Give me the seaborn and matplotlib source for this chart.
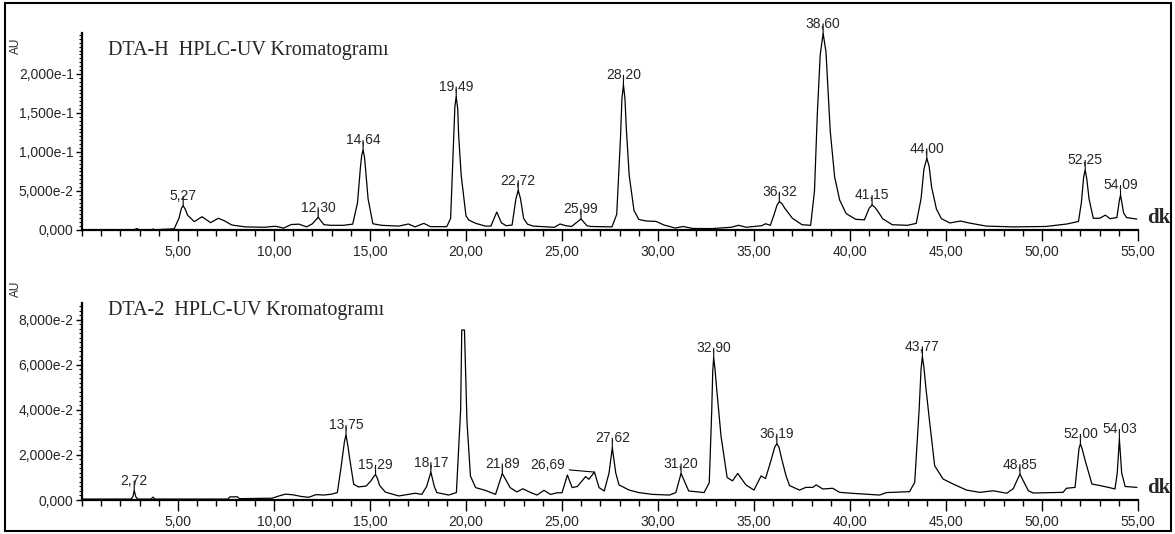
import numpy as np
import matplotlib
matplotlib.use("Agg")
import matplotlib.pyplot as plt
from matplotlib.patches import Rectangle
from matplotlib.ticker import FixedLocator, MultipleLocator
import seaborn as sns

# DTA-H trace (min, AU)
top_time = [0.0, 2.7, 2.85, 3.0, 3.6, 3.7, 3.8, 4.2, 4.8, 5.05, 5.18, 5.27, 5.37, 5.5, 5.85, 6.25, 6.7,
            7.1, 7.4, 7.8, 8.5, 9.5, 9.9, 10.1, 10.5, 10.9, 11.3, 11.7, 12.0, 12.3, 12.6, 13.0,
            13.6, 14.1, 14.35, 14.5, 14.57, 14.64, 14.71, 14.78, 14.9, 15.15, 15.6, 16.0, 16.5, 17.0, 17.35, 17.8, 18.15,
            19.0, 19.2, 19.35, 19.42, 19.49, 19.57, 19.62, 19.75, 20.0, 20.15, 20.5, 21.0, 21.3, 21.6, 21.85, 22.1, 22.4,
            22.6, 22.72, 22.84, 23.0, 23.2, 23.5, 24.6, 24.9, 25.2, 25.5, 25.99, 26.3, 26.5, 27.6, 27.85, 28.05, 28.12, 28.2,
            28.28, 28.35, 28.5, 28.75, 29.0, 29.4, 29.9, 30.3, 30.9, 31.3, 31.8, 32.8, 33.8, 34.2, 34.6, 35.4,
            35.6, 35.85, 36.05, 36.2, 36.32, 36.45, 36.6, 37.0, 37.5, 37.95, 38.15, 38.3, 38.45, 38.6, 38.75, 38.9, 38.97, 39.2, 39.46,
            39.8, 40.3, 40.75, 41.0, 41.15, 41.3, 41.45, 41.7, 42.2, 43.0, 43.45, 43.7, 43.85, 44.0, 44.12, 44.25, 44.5, 44.76, 45.2,
            45.75, 46.2, 47.1, 48.5, 50.2, 51.3, 51.9, 52.05, 52.17, 52.25, 52.33, 52.45, 52.67, 53.0, 53.3, 53.55, 53.9,
            54.03, 54.09, 54.16, 54.25, 54.4, 54.94]
top_au = [0.0003, 0.0003, 0.0018, 0.0003, 0.0003, 0.0012, 0.0003, 0.0008, 0.0015, 0.015, 0.028, 0.031, 0.027, 0.019, 0.0107, 0.017, 0.0094,
          0.015, 0.012, 0.0064, 0.004, 0.0035, 0.0045, 0.0047, 0.0025, 0.007, 0.0075, 0.004, 0.008, 0.0163, 0.0068, 0.006,
          0.006, 0.0075, 0.035, 0.08, 0.096, 0.1025, 0.094, 0.075, 0.04, 0.008, 0.006, 0.0055, 0.005, 0.0077, 0.004, 0.0085, 0.0043,
          0.0043, 0.015, 0.11, 0.158, 0.171, 0.155, 0.12, 0.07, 0.018, 0.0128, 0.0086, 0.005, 0.005, 0.023, 0.009, 0.0055, 0.0064,
          0.04, 0.051, 0.04, 0.015, 0.0075, 0.005, 0.0035, 0.0077, 0.0055, 0.0045, 0.0142, 0.0055, 0.0045, 0.004, 0.02, 0.12, 0.168, 0.186,
          0.168, 0.13, 0.07, 0.025, 0.0135, 0.0115, 0.011, 0.0065, 0.0025, 0.0045, 0.002, 0.0018, 0.0035, 0.006, 0.0035, 0.0055,
          0.008, 0.006, 0.02, 0.032, 0.0363, 0.034, 0.028, 0.015, 0.0068, 0.006, 0.05, 0.15, 0.225, 0.252, 0.228, 0.16, 0.127, 0.068, 0.0385,
          0.021, 0.0137, 0.013, 0.028, 0.032, 0.029, 0.024, 0.0145, 0.0068, 0.006, 0.0085, 0.04, 0.078, 0.0918, 0.082, 0.055, 0.027, 0.0145, 0.009,
          0.0115, 0.009, 0.005, 0.004, 0.0045, 0.0077, 0.011, 0.035, 0.068, 0.0769, 0.066, 0.04, 0.015, 0.015, 0.019, 0.0145, 0.016,
          0.038, 0.0448, 0.035, 0.022, 0.016, 0.014]

# DTA-2 trace (min, AU)
bot_time = [0.0, 2.55, 2.65, 2.72, 2.8, 2.9, 3.6, 3.7, 3.8, 7.6, 7.7, 8.1, 8.2, 9.9, 10.3,
            10.6, 11.0, 11.4, 11.8, 12.2, 12.6, 13.0, 13.3, 13.5, 13.67, 13.75, 13.83, 13.95, 14.15, 14.4, 14.8, 15.05,
            15.2, 15.29, 15.38, 15.5, 15.8, 16.2, 16.5, 17.36, 17.7, 17.95, 18.17, 18.35, 18.48, 19.1, 19.5, 19.72, 19.78,
            19.92, 20.05, 20.23, 20.5, 21.0, 21.54, 21.89, 22.3, 22.65, 22.96, 23.37, 23.7, 24.06, 24.4, 24.75,
            25.0, 25.28, 25.53, 25.8, 26.23, 26.4, 26.69, 26.93, 27.2, 27.45, 27.62, 27.8, 27.97, 28.5, 29.0,
            29.7, 30.6, 30.93, 31.2, 31.6, 32.4, 32.67, 32.8, 32.85, 32.9, 32.97, 33.05, 33.28, 33.6, 33.88, 34.15, 34.58,
            35.0, 35.37, 35.6, 35.9, 36.08, 36.19, 36.3, 36.45, 36.67, 36.85, 37.37, 37.7, 38.06, 38.24, 38.58, 39.1, 39.46,
            40.06, 41.54, 41.9, 43.1, 43.37, 43.6, 43.7, 43.77, 43.85, 43.95, 44.15, 44.41, 44.85, 45.37, 46.07, 46.76, 47.46,
            48.16, 48.5, 48.85, 49.29, 49.55, 51.1, 51.27, 51.72, 51.93, 52.0, 52.08, 52.25, 52.6, 53.03, 53.46, 53.8, 53.92,
            54.03, 54.15, 54.33, 54.94]
bot_au = [0.0004, 0.0004, 0.0015, 0.0042, 0.0015, 0.0004, 0.0004, 0.0013, 0.0004, 0.0004, 0.0014, 0.0014, 0.0006, 0.0008, 0.0019,
          0.0026, 0.0023, 0.0016, 0.0012, 0.0024, 0.0022, 0.0026, 0.0033, 0.015, 0.026, 0.0289, 0.025, 0.018, 0.007, 0.0058, 0.0062, 0.0085,
          0.0105, 0.0112, 0.0098, 0.0065, 0.0035, 0.0025, 0.0018, 0.003, 0.0025, 0.006, 0.0124, 0.006, 0.0033, 0.0022, 0.0033, 0.04, 0.0755,
          0.0755, 0.035, 0.0107, 0.0055, 0.0043, 0.0025, 0.0118, 0.0055, 0.0036, 0.005, 0.0033, 0.0022, 0.0043, 0.0025, 0.0032,
          0.0032, 0.0111, 0.0055, 0.006, 0.0104, 0.0092, 0.0124, 0.0055, 0.004, 0.012, 0.0232, 0.012, 0.0067, 0.0044, 0.0033,
          0.0025, 0.0022, 0.0033, 0.0118, 0.004, 0.0033, 0.0077, 0.04, 0.057, 0.0632, 0.058, 0.05, 0.0285, 0.01, 0.0085, 0.0118, 0.0067,
          0.0044, 0.0107, 0.0095, 0.018, 0.0235, 0.025, 0.0235, 0.018, 0.0107, 0.0064, 0.0044, 0.0056, 0.0056, 0.0067, 0.0049, 0.0052, 0.0034,
          0.003, 0.0022, 0.0033, 0.0037, 0.0078, 0.04, 0.058, 0.0638, 0.059, 0.05, 0.0345, 0.0152, 0.0093, 0.0071, 0.0044, 0.0034, 0.0041,
          0.003, 0.005, 0.0115, 0.0041, 0.0031, 0.0034, 0.0052, 0.0056, 0.023, 0.0249, 0.023, 0.0175, 0.0071, 0.0064, 0.0056, 0.0049, 0.012,
          0.0271, 0.012, 0.006, 0.0056]

top_peaks = [5.27, 12.30, 14.64, 19.49, 22.72, 25.99, 28.20, 36.32, 38.60, 41.15, 44.00, 52.25, 54.09]
bot_peaks = [2.72, 13.75, 15.29, 18.17, 21.89, 26.69, 27.62, 31.20, 32.90, 36.19, 43.77, 48.85, 52.00, 54.03]

titles = ["DTA-H  HPLC-UV Kromatogramı", "DTA-2  HPLC-UV Kromatogramı"]
x_ticks = [5, 10, 15, 20, 25, 30, 35, 40, 45, 50, 55]
x_labels = ["5,00", "10,00", "15,00", "20,00", "25,00", "30,00", "35,00", "40,00", "45,00", "50,00", "55,00"]
top_yticks = [0, 0.05, 0.10, 0.15, 0.20]
top_ylabels = ["0,000", "5,000e-2", "1,000e-1", "1,500e-1", "2,000e-1"]
bot_yticks = [0, 0.02, 0.04, 0.06, 0.08]
bot_ylabels = ["0,000", "2,000e-2", "4,000e-2", "6,000e-2", "8,000e-2"]

sns.set_style("ticks")
plt.rcParams["font.family"] = ["Liberation Sans", "DejaVu Sans"]

W, H = 1175, 534
fig = plt.figure(figsize=(W / 100, H / 100), dpi=100)
ax_top = fig.add_axes([82 / W, 1 - 230 / H, 1056 / W, 197 / H])
ax_bot = fig.add_axes([82 / W, 1 - 500 / H, 1056 / W, 197 / H])


def draw_panel(ax, t, au, peaks, yticks, ylabels, ymax, yminor, title, title_y, au_y, shifted):
    sns.lineplot(x=t, y=au, ax=ax, color="black", linewidth=0.9, estimator=None, sort=False)
    ax.set_xlim(0, 55)
    ax.set_ylim(0, ymax)
    sns.despine(ax=ax)
    for side in ["left", "bottom"]:
        ax.spines[side].set_linewidth(1.6)
        ax.spines[side].set_color("black")

    ax.xaxis.set_major_locator(FixedLocator(x_ticks))
    ax.set_xticklabels(x_labels)
    ax.xaxis.set_minor_locator(MultipleLocator(1))
    ax.yaxis.set_major_locator(FixedLocator(yticks))
    ax.set_yticklabels(ylabels)
    ax.yaxis.set_minor_locator(MultipleLocator(yminor))
    ax.tick_params(axis="x", which="major", length=8, width=1, labelsize=10, pad=3, color="black")
    ax.tick_params(axis="x", which="minor", length=4, width=1, color="black")
    ax.tick_params(axis="y", which="major", length=4, width=1, labelsize=10, pad=2, color="black")
    ax.tick_params(axis="y", which="minor", length=2.5, width=0.8, color="black")
    ax.set_xlabel("")
    ax.set_ylabel("")

    # peak labels
    for p in peaks:
        h = np.interp(p, t, au)
        txt = f"{p:.2f}".replace(".", ",")
        if p in shifted:
            ax.annotate(txt, xy=(p, h), xytext=(-34, 2), textcoords="offset points",
                        ha="center", va="baseline", fontsize=10,
                        arrowprops=dict(arrowstyle="-", lw=0.8, color="black",
                                        relpos=(1.0, 0.2), shrinkA=1, shrinkB=0))
        else:
            ax.annotate(txt, xy=(p, h), xytext=(0, 4), textcoords="offset points",
                        ha="center", va="baseline", fontsize=10,
                        arrowprops=dict(arrowstyle="-", lw=0.8, color="black",
                                        shrinkA=0, shrinkB=0))

    ax.text(0.0246, title_y, title, transform=ax.transAxes, va="baseline", ha="left",
            fontsize=14.5, family=["Liberation Serif", "DejaVu Serif"])
    ax.text(1.0085, 0.012, "dk", transform=ax.transAxes, va="bottom", ha="left",
            fontsize=15, fontweight="bold", family=["Liberation Serif", "DejaVu Serif"])
    ax.text(-0.0625, au_y, "AU", transform=ax.transAxes, rotation=90,
            ha="center", va="center", fontsize=8.5)


draw_panel(ax_top, top_time, top_au, top_peaks, top_yticks, top_ylabels, 0.2525, 0.005,
           titles[0], 0.888, 0.935, [])
draw_panel(ax_bot, bot_time, bot_au, bot_peaks, bot_yticks, bot_ylabels, 0.0875, 0.002,
           titles[1], 0.939, 1.07, [26.69])

fig.add_artist(Rectangle((5 / W, 3 / H), 1166 / W, 528 / H, transform=fig.transFigure,
                         fill=False, lw=1.5, ec="black"))

fig.savefig("out.png", dpi=100)
